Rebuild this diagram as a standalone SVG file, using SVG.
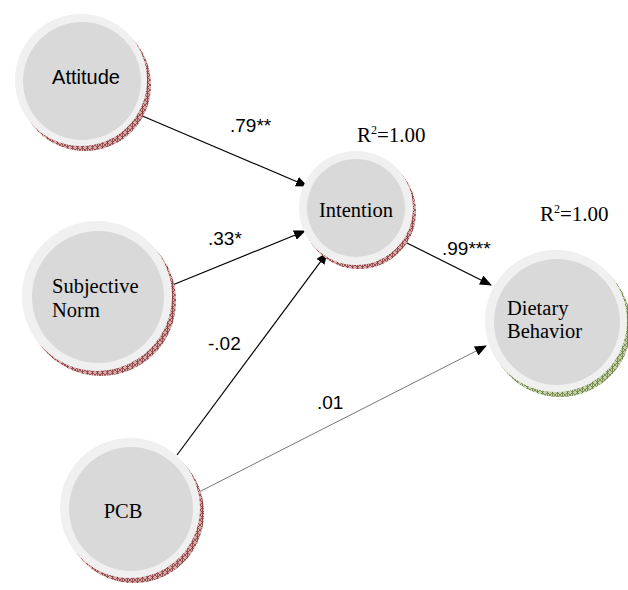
<svg xmlns="http://www.w3.org/2000/svg" width="628" height="590" viewBox="0 0 628 590">
<style>
.ring{fill:#f0f0f0}
.core{fill:#d9d9d9}
.shr{fill:url(#hatchR)}
.shg{fill:url(#hatchG)}
.sans{font-family:"Liberation Sans",Arial,sans-serif;font-size:19px;fill:#000}
.serif{font-family:"Liberation Serif","Times New Roman",serif;font-size:20.5px;fill:#000}
.edge{stroke:#000;stroke-width:1.2;fill:none;marker-end:url(#arr)}
.edge2{stroke:#777;stroke-width:1;fill:none;marker-end:url(#arr)}
</style>
<defs>
<pattern id="hatchR" width="5" height="5" patternUnits="userSpaceOnUse">
<rect width="5" height="5" fill="#d4aaaa"/>
<path d="M0 0L5 5M5 0L0 5M2.5 0V5" stroke="#7f2a2a" stroke-width="0.7"/>
</pattern>
<pattern id="hatchG" width="5" height="5" patternUnits="userSpaceOnUse">
<rect width="5" height="5" fill="#c6d2ac"/>
<path d="M0 0L5 5M5 0L0 5M2.5 0V5" stroke="#5f7530" stroke-width="0.7"/>
</pattern>
<marker id="arr" markerWidth="12" markerHeight="10" refX="11" refY="5" orient="auto" markerUnits="userSpaceOnUse">
<path d="M0 0L12 5L0 10z" fill="#000"/>
</marker>
</defs>

<g id="connectors">
<line class="edge" x1="133" y1="112" x2="307" y2="186"/>
<line class="edge" x1="170" y1="286" x2="305" y2="231"/>
<line class="edge" x1="177" y1="455" x2="327" y2="253"/>
<line class="edge" x1="405" y1="242" x2="491" y2="285"/>
<line class="edge2" x1="197" y1="493" x2="486" y2="346"/>
<text class="sans" x="230" y="132">.79**</text>
<text class="sans" x="208" y="245">.33*</text>
<text class="sans" x="208" y="350">-.02</text>
<text class="sans" x="317" y="409">.01</text>
<text class="sans" x="442" y="255">.99***</text>
</g>

<g id="attitude">
<circle class="shr" cx="85" cy="85" r="66"/>
<circle class="ring" cx="81" cy="80" r="66"/>
<circle class="core" cx="82" cy="81" r="59"/>
<text class="sans" x="86" y="84" text-anchor="middle" style="font-size:20px">Attitude</text>
</g>

<g id="subjective-norm">
<circle class="shr" cx="101" cy="301" r="75"/>
<circle class="ring" cx="97" cy="296" r="75"/>
<circle class="core" cx="98" cy="297" r="66"/>
<text class="serif" x="52" y="293">Subjective</text>
<text class="serif" x="52" y="317">Norm</text>
</g>

<g id="pcb">
<circle class="shr" cx="134" cy="513" r="70"/>
<circle class="ring" cx="130" cy="508" r="70"/>
<circle class="core" cx="131" cy="509" r="62"/>
<text class="serif" x="123" y="518" text-anchor="middle">PCB</text>
</g>

<g id="intention">
<circle class="shr" cx="359" cy="212" r="57"/>
<circle class="ring" cx="356" cy="208" r="57"/>
<circle class="core" cx="356" cy="208" r="49"/>
<text class="serif" x="356" y="217" text-anchor="middle">Intention</text>
<text class="serif" x="357" y="142" style="font-size:21px">R<tspan dy="-8" style="font-size:12px">2</tspan><tspan dy="8">=1.00</tspan></text>
</g>

<g id="dietary-behavior">
<circle class="shg" cx="560" cy="326" r="71"/>
<circle class="ring" cx="556" cy="321" r="71"/>
<circle class="core" cx="557" cy="322" r="63"/>
<text class="serif" x="507" y="315">Dietary</text>
<text class="serif" x="507" y="338">Behavior</text>
<text class="serif" x="540" y="221" style="font-size:21px">R<tspan dy="-8" style="font-size:12px">2</tspan><tspan dy="8">=1.00</tspan></text>
</g>
</svg>
